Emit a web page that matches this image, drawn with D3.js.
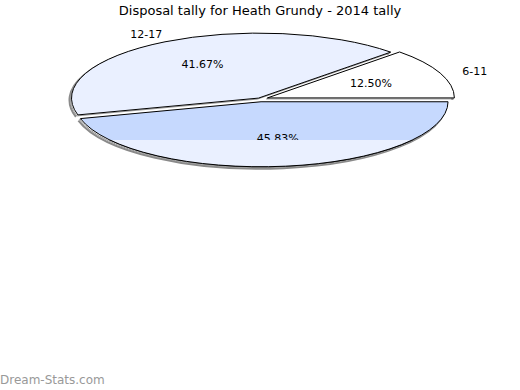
<!DOCTYPE html>
<html>
<head>
<meta charset="utf-8">
<script src="https://cdn.jsdelivr.net/npm/d3@7"></script>
<style>
  body { margin: 0; background: #fff; }
  svg { display: block; font-family: "DejaVu Sans", sans-serif; }
</style>
</head>
<body>
<div class="graph_wrapper"></div>
<script>
// disposal tally buckets (games), read from the percentages
var categories = ['6-11', '12-17', ''];
var games = [3, 10, 11];
var colors = ['#ffffff', '#eaf0ff', '#c6d9fe'];

var width = 520;
var height = 390;
var cx = 260, cy = 99;
var rx = 187, ry = 65;
var explode = [8, 3, 8];
var cutY = 140;

var svg = d3.select('.graph_wrapper').append('svg')
  .attr('width', width).attr('height', height);

svg.append('text').attr('x', 260).attr('y', 15).attr('text-anchor', 'middle')
  .style('font-size', '13px').text('Disposal tally for Heath Grundy - 2014 tally');

var total = d3.sum(games);
var data = games.map(function (v, i) { return { name: categories[i], value: v }; });

// pie goes counter-clockwise from 3 o'clock
var pie = d3.pie().value(function (d) { return d.value; }).sort(null)
  .startAngle(Math.PI / 2).endAngle(Math.PI / 2 - 2 * Math.PI);
var arcs = pie(data);

var arc = d3.arc().innerRadius(0).outerRadius(rx);
var k = ry / rx;

function offset(d) {
  var a = (d.startAngle + d.endAngle) / 2;
  var e = explode[d.index];
  return [e * Math.sin(a), -e * Math.cos(a)];
}

function sliceTransform(d, dx, dy) {
  var o = offset(d);
  return 'translate(' + (cx + dx) + ',' + (cy + dy) + ') scale(1,' + k + ') translate(' + o[0] + ',' + o[1] + ')';
}

// outer rim only, for the shadow
function rim(d) {
  var p = d3.path();
  var a0 = d.startAngle - Math.PI / 2, a1 = d.endAngle - Math.PI / 2;
  p.moveTo(rx * Math.cos(a0), rx * Math.sin(a0));
  p.arc(0, 0, rx, a0, a1, true);
  return p.toString();
}

svg.append('g').selectAll('path').data(arcs).enter().append('path')
  .attr('transform', function (d) { return sliceTransform(d, -2, 2); })
  .attr('d', rim)
  .attr('vector-effect', 'non-scaling-stroke')
  .attr('fill', 'none').attr('stroke', '#8a8a8a').attr('stroke-width', 2);

svg.append('g').selectAll('path').data(arcs).enter().append('path')
  .attr('transform', function (d) { return sliceTransform(d, -1, 1); })
  .attr('d', arc)
  .attr('vector-effect', 'non-scaling-stroke')
  .attr('fill', 'none').attr('stroke', '#999').attr('stroke-width', 1);

svg.append('g').attr('class', 'pie').selectAll('path').data(arcs).enter().append('path')
  .attr('transform', function (d) { return sliceTransform(d, 0, 0); })
  .attr('d', arc)
  .attr('vector-effect', 'non-scaling-stroke')
  .attr('fill', function (d, i) { return colors[i]; })
  .attr('stroke', '#000').attr('stroke-width', 1);

function point(d, r) {
  var a = (d.startAngle + d.endAngle) / 2;
  var o = offset(d);
  return [cx + (o[0] + r * Math.sin(a)), cy + k * (o[1] - r * Math.cos(a))];
}

// percentage labels
arcs.forEach(function (d) {
  var p = point(d, rx * 0.6);
  var t = svg.append('text').attr('x', p[0]).attr('y', p[1] + 4)
    .attr('text-anchor', 'middle').style('font-size', '11px')
    .text((100 * d.value / total).toFixed(2) + '%');
  if (d.index === 2) { t.attr('y', cutY + 2).attr('x', p[0] + 2); }
});

// lower band of the big slice painted over in the pale tone
svg.append('clipPath').attr('id', 'lower').append('rect')
  .attr('x', 0).attr('y', cutY).attr('width', width).attr('height', height - cutY);
svg.append('g').attr('clip-path', 'url(#lower)')
  .append('path')
  .attr('transform', sliceTransform(arcs[2], 0, 0))
  .attr('d', arc(arcs[2]))
  .attr('vector-effect', 'non-scaling-stroke')
  .attr('fill', colors[1]).attr('stroke', '#000');

// category labels outside
arcs.forEach(function (d) {
  if (!d.data.name) return;
  var p = point(d, rx * 1.2);
  svg.append('text').attr('x', p[0]).attr('y', p[1] + 7)
    .attr('text-anchor', 'middle').style('font-size', '11px')
    .text(d.data.name);
});

svg.append('text').attr('x', 0).attr('y', 384)
  .style('font-size', '12px').attr('fill', '#999')
  .text('Dream-Stats.com');
</script>
</body>
</html>
